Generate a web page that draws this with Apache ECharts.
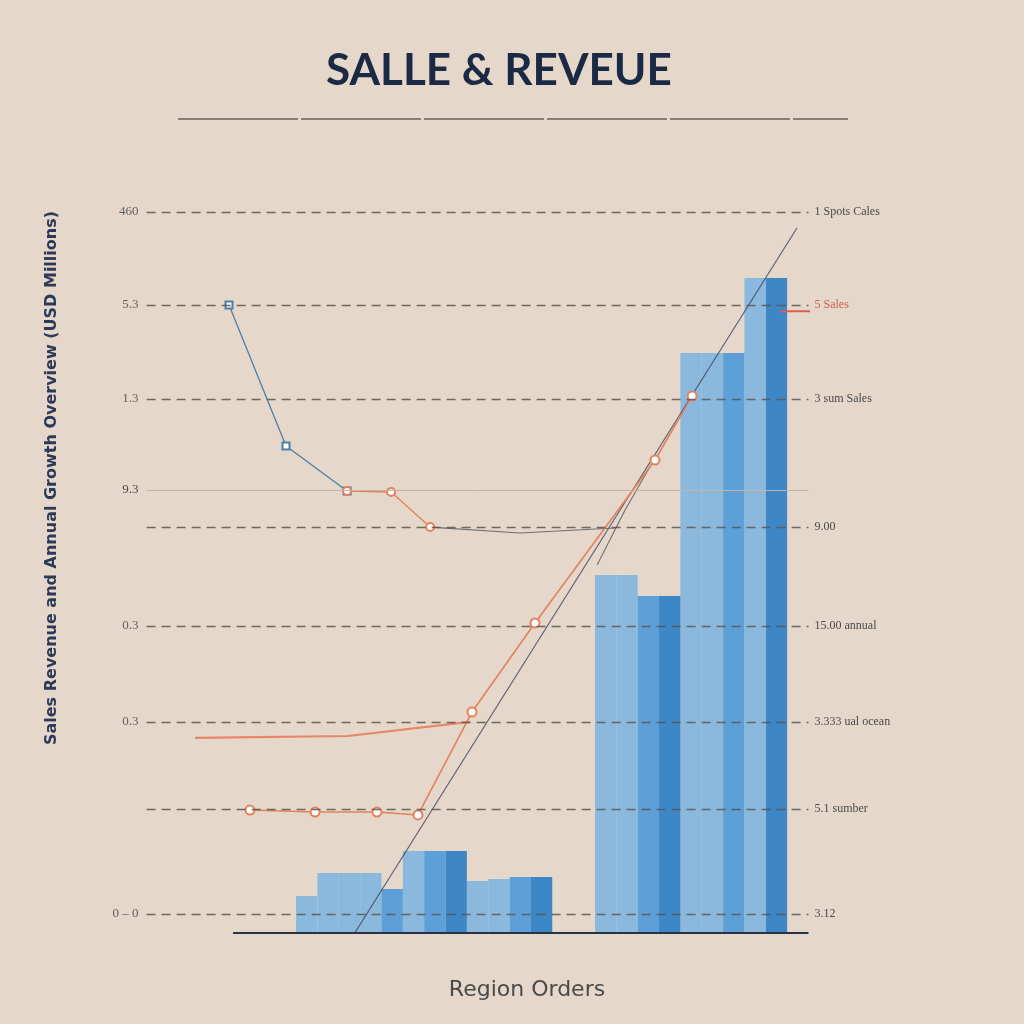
<!DOCTYPE html>
<html>
<head>
<meta charset="utf-8">
<script src="https://cdn.jsdelivr.net/npm/echarts@6/dist/echarts.min.js"></script>
<style>html,body{margin:0;padding:0;background:#e5d8ca}#c{width:1024px;height:1024px}</style>
</head>
<body>
<div id="c"></div>
<script>
// ---- data ----
const titleText = 'SALLE & REVEUE';
const xAxisTitle = 'Region Orders';
const yAxisTitle = 'Sales Revenue and Annual Growth Overview (USD Millions)';
const categories = ['R01','R02','R03','R04','R05','R06','R07','R08','R09','R10','R11','R12','R13','R14','R15','R16',
  'R17','R18','R19','R20','R21','R22','R23','R24','R25','R26','R27','R28','R29','R30','R31'];
const lightVals  = ['-','-','-','-','-','-','-',20.5,33.3,33.3,33.3,'-',45.5,'-','-',28.8,30,'-','-','-','-',198.6,198.6,'-','-',321.8,321.8,'-',363.4,'-','-'];
const mediumVals = ['-','-','-','-','-','-','-','-','-','-','-',24.4,'-',45.5,'-','-','-',31,'-','-','-','-','-',187,'-','-','-',321.8,'-','-','-'];
const darkVals   = ['-','-','-','-','-','-','-','-','-','-','-','-','-','-',45.5,'-','-','-',31,'-','-','-','-','-',187,'-','-','-','-',363.4,'-'];

const blueLine    = [[3.86,348.4],[6.53,270.2],[9.39,245.2]];
const orangeLine1 = [[9.39,245.2],[11.45,244.7],[13.28,225.2]];
const grayLine1   = [[13.28,225.2],[17.49,221.9],[21.94,224.7]];
const grayLine2   = [[21.10,204.2],[22.41,234.7],[23.81,263.5]];
const orangeLine2 = [[2.27,108.2],[9.43,109.3],[15.14,117.1]];
const orangeLine3 = [[4.84,68.2],[7.89,67.1],[10.79,67.1],[12.71,65.5],[15.24,122.6],[18.19,172.0],[23.81,262.4],[25.55,297.9]];
const trendLine   = [[9.75,0],[30.46,391.1]];
const redMarker   = [[29.67,345],[31.17,345]];

const gridValues  = [400,348.4,296.3,245.8,225.2,170.3,117.1,68.8,10.5];
const leftLabels  = ['460','5.3','1.3','9.3','','0.3','0.3','','0 – 0'];
const rightLabels = ['1 Spots Cales','5 Sales','3 sum Sales','','9.00','15.00 annual','3.333 ual ocean','5.1 sumber','3.12'];
const baseline    = [[4.05,0],[31,0]];

// ---- chart ----
const chart = echarts.init(document.getElementById('c'));
const barBase = {type:'bar', xAxisIndex:0, yAxisIndex:0, barGap:'-100%', barCategoryGap:'0%', z:2};
function lineS(data, color, width, opts){
  return Object.assign({type:'line', xAxisIndex:1, yAxisIndex:0, data:data, clip:false, z:4,
    symbol:'none', lineStyle:{color:color, width:width}, itemStyle:{color:color}, silent:true}, opts||{});
}
const gridLineData = gridValues.map((v,i)=>({
  yAxis:v,
  lineStyle: i===3 ? {type:'solid', color:'#c4b4a4', width:1} : {type:[9,6], color:'#5a5550', width:1.4, opacity:0.85},
  label:{formatter:leftLabels[i]}
}));
const gridLabelData = gridValues.map((v,i)=>({
  yAxis:v,
  lineStyle:{color:'rgba(0,0,0,0)', width:0.1},
  label:{show:true, position:'end', formatter:rightLabels[i], color: i===1 ? '#d0604e' : '#4a4a4a'}
}));

chart.setOption({
  backgroundColor:'#e5d8ca',
  animation:false,
  title:{text:titleText, left:321, top:44, textStyle:{fontFamily:'Lato', fontWeight:'bold', fontSize:44, color:'#1b2a44'}},
  grid:{left:146.6, right:1024-808.5, top:212, bottom:91, containLabel:false},
  xAxis:[
    {type:'category', data:categories, show:false, boundaryGap:true},
    {type:'value', min:0, max:31, show:false}
  ],
  yAxis:[{type:'value', min:0, max:400, show:false}],
  graphic:[
    {type:'line', shape:{x1:178,y1:119,x2:848,y2:119}, style:{stroke:'#6a625c', lineWidth:1.3, lineDash:[120,3]}},
    {type:'text', x:52, y:478, rotation:Math.PI/2, style:{text:yAxisTitle, fill:'#2b3a58', font:'bold 16px "DejaVu Sans"', textAlign:'center', textVerticalAlign:'middle'}},
    {type:'text', x:527, y:990, style:{text:xAxisTitle, fill:'#4a4a4a', font:'22px "DejaVu Sans"', textAlign:'center', textVerticalAlign:'middle'}}
  ],
  series:[
    Object.assign({}, barBase, {name:'light', data:lightVals, itemStyle:{color:'#8bb9de'}}),
    Object.assign({}, barBase, {name:'medium', data:mediumVals, itemStyle:{color:'#5ca0d7'}}),
    Object.assign({}, barBase, {name:'dark', data:darkVals, itemStyle:{color:'#3e87c6'}}),
    {type:'line', xAxisIndex:1, yAxisIndex:0, data:[], z:1, silent:true,
      markLine:{silent:true, symbol:'none', animation:false,
        label:{position:'start', color:'#4a4a4a', fontFamily:'Liberation Serif', fontSize:13, distance:8},
        data:gridLineData}},
    {type:'line', xAxisIndex:1, yAxisIndex:0, data:[], z:1, silent:true,
      markLine:{silent:true, symbol:'none', animation:false,
        label:{show:true, position:'end', fontFamily:'Liberation Serif', fontSize:12, distance:6},
        data:gridLabelData}},
    {type:'line', xAxisIndex:1, yAxisIndex:0, data:[], z:5, silent:true,
      markLine:{silent:true, symbol:'none', animation:false, label:{show:false},
        lineStyle:{color:'#2a3344', width:2, type:'solid'},
        data:[[{coord:baseline[0]},{coord:baseline[1]}]]}},
    lineS(trendLine, '#2d3b55', 1.2, {lineStyle:{color:'#2d3b55', width:1.2, opacity:0.75}}),
    lineS(blueLine, '#4d7ea9', 1.3, {symbol:'emptyRect', symbolSize:7, showSymbol:true}),
    lineS(orangeLine1, '#e3805e', 1.4, {symbol:'emptyCircle', symbolSize:8, showSymbol:true}),
    lineS(grayLine1, '#6e6e6c', 1.1),
    lineS(grayLine2, '#6e6e6c', 1.1),
    lineS(orangeLine2, '#e8866a', 2.2),
    lineS(orangeLine3, '#e3805e', 1.6, {symbol:'emptyCircle', symbolSize:9, showSymbol:true}),
    lineS(redMarker, '#d9604e', 2)
  ]
});
</script>
</body>
</html>
